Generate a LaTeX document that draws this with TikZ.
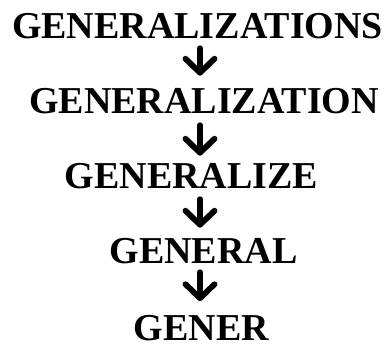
\documentclass[tikz,border=0pt]{standalone}
\usepackage{fontspec}
\setmainfont{Liberation Serif}
\usetikzlibrary{arrows.meta}
\begin{document}
\begin{tikzpicture}[x=1pt,y=-1pt,
  word/.style={font=\bfseries\fontsize{38}{38}\selectfont, inner sep=0pt, text depth=0pt, anchor=base},
  downarrow/.style={line width=5.8pt, line cap=round, line join=round,
    -{Straight Barb[length=14pt,width=29pt,line cap=round,line join=round]}}]
\useasboundingbox[fill=white] (0,0) rectangle (390,345);
\coordinate (ax) at (200,0);
\node[word] (n1) at (197.5,38) {GENERALIZATIONS};
\node[word] (n2) at (204,113) {GENERALIZATION};
\node[word] (n3) at (191.5,188) {GENERALIZE};
\node[word] (n4) at (203.5,263) {GENERAL};
\node[word] (n5) at (201.5,340.5) {GENER};
\draw[downarrow, shorten <=10pt, shorten >=12pt] (n1.south -| ax) -- (n2.north -| ax);
\draw[downarrow, shorten <=12pt, shorten >=7pt] (n2.south -| ax) -- (n3.north -| ax);
\draw[downarrow, shorten <=11pt, shorten >=10pt] (n3.south -| ax) -- (n4.north -| ax);
\draw[downarrow, shorten <=9pt, shorten >=14pt] (n4.south -| ax) -- (n5.north -| ax);
\end{tikzpicture}
\end{document}
